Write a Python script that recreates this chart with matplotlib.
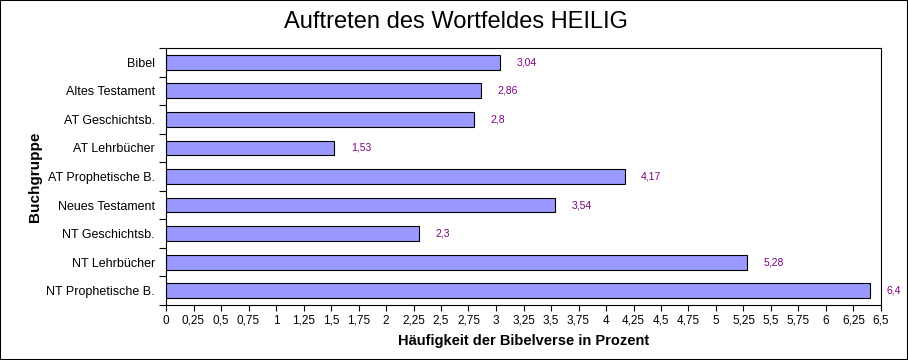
import matplotlib
matplotlib.use("Agg")
import matplotlib.pyplot as plt
from matplotlib.patches import Rectangle

categories = ["Bibel", "Altes Testament", "AT Geschichtsb.", "AT Lehrbücher",
              "AT Prophetische B.", "Neues Testament", "NT Geschichtsb.",
              "NT Lehrbücher", "NT Prophetische B."]
values = [3.04, 2.86, 2.8, 1.53, 4.17, 3.54, 2.3, 5.28, 6.4]
value_labels = ["3,04", "2,86", "2,8", "1,53", "4,17", "3,54", "2,3", "5,28", "6,4"]
xticks = [i * 0.25 for i in range(27)]
xtick_labels = [("%g" % t).replace(".", ",") for t in xticks]

plt.rcParams['font.family'] = ['Liberation Sans', 'DejaVu Sans']

fig = plt.figure(figsize=(9.08, 3.6), dpi=100)
fig.patches.append(Rectangle((0, 0), 1, 1, transform=fig.transFigure,
                             fill=False, edgecolor='black', linewidth=1.5))
ax = fig.add_axes([166/908, 1 - 305/360, (881 - 166)/908, (305 - 48)/360])

y = list(range(len(categories)))
ax.barh(y, values, height=0.52, color='#9999FF', edgecolor='black', linewidth=0.8)
for yi, v, lab in zip(y, values, value_labels):
    ax.text(v + 0.15, yi, lab, va='center', ha='left', fontsize=7.5, color='#800080')

ax.set_xlim(0, 6.5)
ax.set_ylim(len(categories) - 0.5, -0.5)
ax.set_xticks(xticks)
ax.set_xticklabels(xtick_labels, fontsize=8.5)
ax.set_yticks(y)
ax.set_yticklabels(categories, fontsize=9)
ax.set_yticks([i + 0.5 for i in range(-1, len(categories))], minor=True)
ax.tick_params(axis='y', which='major', length=0, pad=8)
ax.tick_params(axis='y', which='minor', length=5, width=0.8)
ax.tick_params(axis='x', which='major', length=4, width=0.8, pad=3)
for s in ax.spines.values():
    s.set_linewidth(0.8)

ax.set_xlabel("Häufigkeit der Bibelverse in Prozent", fontsize=10.5, fontweight='bold', labelpad=5)
ax.set_ylabel("Buchgruppe", fontsize=11, fontweight='bold', labelpad=3)
fig.text(456/908, 1 - 22/360, "Auftreten des Wortfeldes HEILIG", ha='center', va='center', fontsize=17)

fig.savefig("out.png", dpi=100)
